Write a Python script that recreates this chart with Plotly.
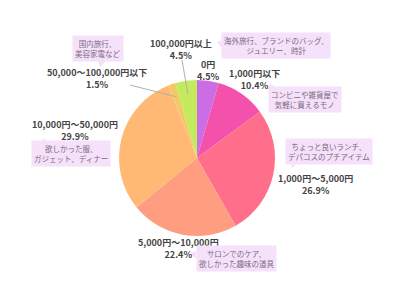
import math
import plotly.graph_objects as go

categories = ["0円", "1,000円以下", "1,000円～5,000円", "5,000円～10,000円",
              "10,000円～50,000円", "50,000～100,000円以下", "100,000円以上"]
values = [4.5, 10.4, 26.9, 22.4, 29.9, 1.5, 4.5]
colors = ["#cb6ee6", "#f451ad", "#ff6e8b", "#ff9d80", "#ffb974", "#f3c965", "#c3eb5d"]
callouts = ["海外旅行、ブランドのバッグ、<br>ジュエリー、時計", "コンビニや雑貨屋で<br>気軽に買えるモノ",
            "ちょっと良いランチ、<br>デパコスのプチアイテム", "サロンでのケア、<br>欲しかった趣味の道具",
            "欲しかった服、<br>ガジェット、ディナー", "国内旅行、<br>美容家電など"]

W, H = 400, 300
cx, cy, r = 197, 158, 78

def px(x):
    return x / W

def py(y):
    return 1 - y / H

fig = go.Figure(go.Pie(
    labels=categories, values=values, sort=False, direction="clockwise", rotation=0,
    marker=dict(colors=colors, line=dict(width=0)), textinfo="none", hoverinfo="label+percent",
    domain=dict(x=[px(cx - r), px(cx + r)], y=[py(cy + r), py(cy - r)]),
    showlegend=False,
))

LF = dict(family="Noto Sans CJK JP", size=9, color="#444444")
label_pos = [(208, 70), (254, 80), (315, 184), (178, 248), (75, 130), (97, 78), (181, 49)]
anns = []
for cat, v, (x, y) in zip(categories, values, label_pos):
    anns.append(dict(x=px(x), y=py(y), xref="paper", yref="paper", showarrow=False,
                     xanchor="center", yanchor="middle",
                     text=f"<b>{cat}</b><br><b>{v}%</b>", font=LF, align="center"))

CF = dict(family="Noto Sans CJK JP", size=7.5, color="#7a6a7e")
BG = "#f6e1fb"
callout_pos = [(276, 45), (305, 99), (329, 151), (236, 258), (71, 153), (98, 48)]
for t, (x, y) in zip(callouts, callout_pos):
    anns.append(dict(x=px(x), y=py(y), xref="paper", yref="paper", showarrow=False,
                     xanchor="center", yanchor="middle",
                     text=t, font=CF, bgcolor=BG, borderpad=2, align="center"))

shapes = []
# pointer triangles of callout boxes
tris = [
    [(222, 40), (222, 48), (217, 42)],
    [(269, 88), (276, 88), (270, 83)],
    [(291, 162), (299, 162), (292, 168)],
    [(196, 251), (196, 259), (190, 253)],
    [(42, 143), (50, 143), (43, 138)],
    [(98, 61), (106, 61), (100, 67)],
]
for tri in tris:
    path = "M " + " L ".join(f"{px(a)},{py(b)}" for a, b in tri) + " Z"
    shapes.append(dict(type="path", xref="paper", yref="paper", path=path,
                       fillcolor=BG, line=dict(width=0)))

# leader lines for the two narrow slices
total = sum(values)
cum = 0
mids = []
for v in values:
    mids.append((cum + v / 2) / total * 2 * math.pi)
    cum += v
for idx, (lx, ly) in [(5, (130, 85)), (6, (182, 60))]:
    a = mids[idx]
    ex = cx + 0.83 * r * math.sin(a)
    ey = cy - 0.83 * r * math.cos(a)
    shapes.append(dict(type="line", xref="paper", yref="paper", x0=px(lx), y0=py(ly),
                       x1=px(ex), y1=py(ey), line=dict(color="#b0b0b0", width=1)))

fig.update_layout(width=W, height=H, margin=dict(l=0, r=0, t=0, b=0),
                  paper_bgcolor="white", plot_bgcolor="white",
                  annotations=anns, shapes=shapes)
fig.write_html("out.html")
